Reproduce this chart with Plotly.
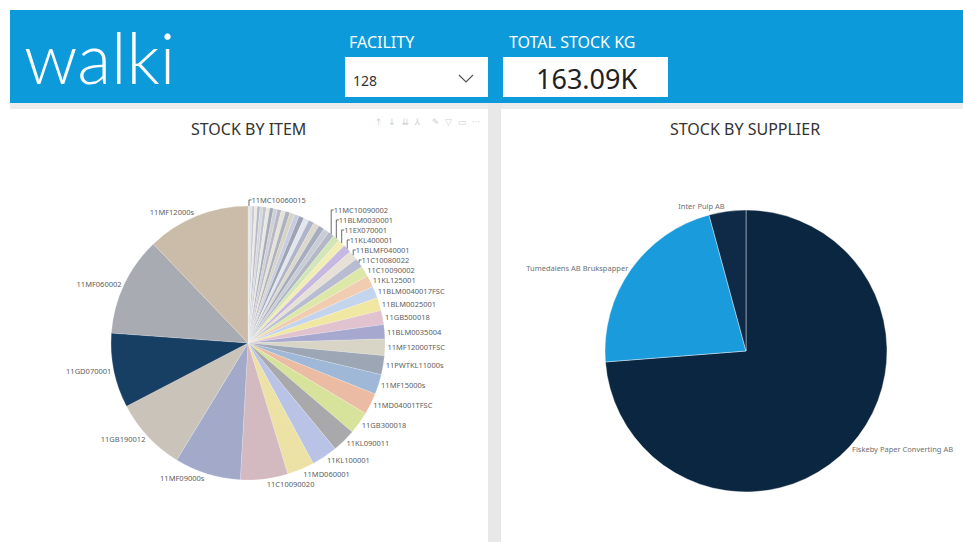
import plotly.graph_objects as go

W, H = 963, 542

# ---------------- data ----------------
item_labels = [
    "11MF12000s", "11MF060002", "11GD070001", "11GB190012", "11MF09000s",
    "11C10090020", "11MD060001", "11KL100001", "11KL090011", "11GB300018",
    "11MD04001TFSC", "11MF15000s", "11PWTKL11000s", "11MF12000TFSC", "11BLM0035004",
    "11GB500018", "11BLM0025001", "11BLM0040017FSC", "11KL125001", "11C10090002",
    "11C10080022", "11BLMF040001", "11KL400001", "11EX070001", "11BLM0030001",
    "11MC10090002",
    "11KL060001", "11BLM0020001", "11GB250018", "11MF08000s", "11C10070010",
    "11KL150001", "11MD03001TFSC", "11BLM0050001", "11EX050001", "11GB400018",
    "11KL200001", "11MF10000s", "11C10060012", "11BLM0015001", "11PWTKL09000s",
    "11KL300001", "11MD02001", "11EX090001", "11GB600018", "11BLM0060001",
    "11MC10060015",
]
item_kg = [
    19700, 19000, 14270, 14040, 12680,
    9060, 5210, 4980, 4530, 4300,
    4080, 3850, 3620, 3170, 2720,
    2700, 2490, 2270, 2250, 2040,
    1810, 1800, 1590, 1360, 1350,
    1130,
    1125, 1115, 1100, 1060, 1020,
    980, 940, 900, 860, 820,
    780, 740, 700, 660, 620,
    580, 540, 500, 460, 430,
    360,
]
item_shown = [True] * 26 + [False] * 20 + [True]

supplier_labels = ["Fiskeby Paper Converting AB", "Tumedalens AB Brukspapper", "Inter Pulp AB"]
supplier_kg = [120300, 35900, 6890]

facility = "128"
total_stock = "163.09K"

item_colors = [
    "#CBBCAA", "#A9ABB3", "#173E63", "#C9C3BA", "#A2A9C9",
    "#D3BAC0", "#EDE2A6", "#B9C3E6", "#A9A9AB", "#D7E39A",
    "#EBBBA3", "#9FB8D8", "#9DA6B4", "#D8D4C6", "#A6A8CF",
    "#E1C2CF", "#F0E7A2", "#C3D4EC", "#F2CCB0", "#DDE8A8",
    "#B8BCD0", "#E6E0D6", "#C6B8E0", "#F1EDB5", "#D2E6B8",
    "#B4B8C4",
    "#C9CDD8", "#A8ADBD", "#DCD8CC", "#B0B4C8", "#E2E6EE",
    "#9EA4B4", "#C8CCE0", "#D8D4C4", "#AEB2C0", "#E6E2D6",
    "#B8B8C8", "#CFCFD6", "#A4AAB8", "#E8E8E0", "#C0C4D0",
    "#D4D8DC", "#B6BAC6", "#ECEAE0", "#C4C8D4", "#DDE0E6",
    "#E4E4DC",
]
supplier_colors = ["#0B2641", "#1A9BDB", "#0E2A47"]


def px(x):
    return x / W


def py(y):
    return 1 - y / H


fig = go.Figure()

# smallest first, clockwise from 12 o'clock, so the largest slice ends at 12 o'clock
fig.add_trace(go.Pie(
    labels=item_labels[::-1],
    values=item_kg[::-1],
    text=[l if s else "" for l, s in zip(item_labels[::-1], item_shown[::-1])],
    textinfo="text",
    textposition=["outside" if s else "none" for s in item_shown[::-1]],
    outsidetextfont=dict(family="Noto Sans", size=7.5, color="#606060"),
    marker=dict(colors=item_colors[::-1], line=dict(color="rgba(255,255,255,0.35)", width=0.5)),
    sort=False,
    direction="clockwise",
    rotation=0,
    showlegend=False,
    hoverinfo="label+value",
    domain=dict(x=[px(111), px(385)], y=[py(480), py(206)]),
))

fig.add_trace(go.Pie(
    labels=supplier_labels,
    values=supplier_kg,
    textinfo="label",
    textposition="outside",
    outsidetextfont=dict(family="Noto Sans", size=7.5, color="#707070"),
    marker=dict(colors=supplier_colors, line=dict(color="rgba(255,255,255,0.5)", width=0.8)),
    sort=False,
    direction="clockwise",
    rotation=0,
    showlegend=False,
    hoverinfo="label+value",
    domain=dict(x=[px(605), px(887)], y=[py(494), py(208)]),
))

shapes = [
    # header band
    dict(type="rect", xref="paper", yref="paper", x0=px(10), x1=px(963), y0=py(103), y1=py(10),
         fillcolor="#0C9ADA", line=dict(width=0), layer="below"),
    # gray strip under header
    dict(type="rect", xref="paper", yref="paper", x0=px(10), x1=px(963), y0=py(109), y1=py(103),
         fillcolor="#ECECEC", line=dict(width=0), layer="below"),
    # gap between panels
    dict(type="rect", xref="paper", yref="paper", x0=px(488), x1=px(501), y0=py(542), y1=py(103),
         fillcolor="#E8E8E8", line=dict(width=0), layer="below"),
    # facility slicer box
    dict(type="rect", xref="paper", yref="paper", x0=px(345), x1=px(488), y0=py(97), y1=py(57),
         fillcolor="white", line=dict(width=0), layer="below"),
    # KPI box
    dict(type="rect", xref="paper", yref="paper", x0=px(503), x1=px(668), y0=py(97), y1=py(57),
         fillcolor="white", line=dict(width=0), layer="below"),
    # chevron
    dict(type="path", xref="paper", yref="paper",
         path=f"M {px(459)},{py(75)} L {px(466)},{py(82)} L {px(473)},{py(75)}",
         line=dict(color="#555555", width=1.2)),
]

annotations = [
    dict(text="walki", x=px(22), y=py(57), xanchor="left", yanchor="middle",
         font=dict(family="Lato", size=70, color="white", weight=300)),
    dict(text="FACILITY", x=px(347), y=py(42), xanchor="left", yanchor="middle",
         font=dict(family="Noto Sans", size=16, color="white")),
    dict(text="TOTAL STOCK KG", x=px(507), y=py(42), xanchor="left", yanchor="middle",
         font=dict(family="Noto Sans", size=16, color="white")),
    dict(text=facility, x=px(351), y=py(80), xanchor="left", yanchor="middle",
         font=dict(family="Noto Sans", size=14, color="#333333")),
    dict(text=total_stock, x=px(586), y=py(78), xanchor="center", yanchor="middle",
         font=dict(family="Noto Sans", size=27, color="#222222")),
    dict(text="STOCK BY ITEM", x=px(248), y=py(129), xanchor="center", yanchor="middle",
         font=dict(family="Noto Sans", size=16, color="#333333")),
    dict(text="STOCK BY SUPPLIER", x=px(745), y=py(129), xanchor="center", yanchor="middle",
         font=dict(family="Noto Sans", size=16, color="#333333")),
    dict(text="↑  ↓  ⇊  ⅄    ✎  ▽  ▭  ···", x=px(482), y=py(122), xanchor="right", yanchor="middle",
         font=dict(family="DejaVu Sans", size=9, color="#CFCFCF")),
]
for a in annotations:
    a.update(xref="paper", yref="paper", showarrow=False)

fig.update_layout(
    width=W, height=H,
    margin=dict(l=0, r=0, t=0, b=0),
    paper_bgcolor="white",
    plot_bgcolor="white",
    shapes=shapes,
    annotations=annotations,
)

fig.write_html(
    "out.html",
    config={"displayModeBar": False},
    post_script="document.body.style.margin='0';document.body.style.overflow='hidden';",
)
